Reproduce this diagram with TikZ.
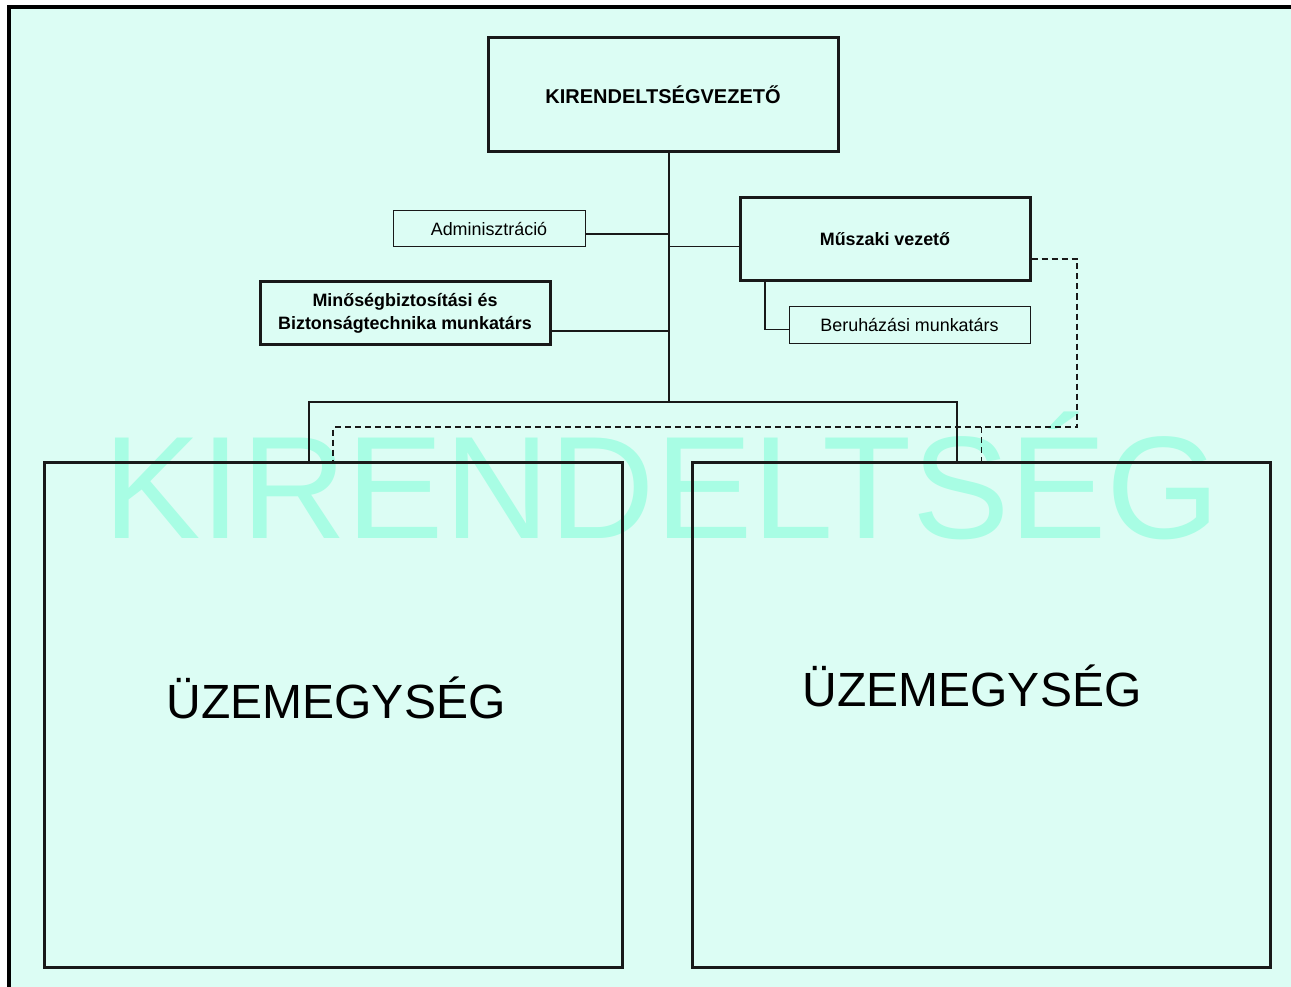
\documentclass[tikz,border=0pt]{standalone}
\usepackage{fontspec}
\setmainfont{Liberation Sans}
\definecolor{hatter}{RGB}{220,253,244}
\definecolor{vizjelszin}{RGB}{168,253,228}
\definecolor{vonal}{RGB}{25,25,25}
\newcommand{\kisbetu}{\fontsize{17.9}{23}\selectfont}
\begin{document}
\begin{tikzpicture}[x=1pt,y=-1pt,
        doboz/.style={draw=vonal,line width=3pt,inner sep=0pt,align=center},
        kisdoboz/.style={draw=vonal,line width=1pt,inner sep=0pt,font=\kisbetu},
        egyseg/.style={draw=vonal,line width=3pt,minimum width=578pt,minimum height=505pt},
        kapcs/.style={draw=vonal,line width=1.5pt},
        szagg/.style={kapcs,dash pattern=on 6pt off 4pt}]
    \useasboundingbox (0,0) rectangle (1291,987);
    \fill[white] (0,0) rectangle (1291,987);
    \fill[hatter] (7,5) rectangle (1291,987);
    \draw[line width=4.5pt] (9,1000) -- (9,7) -- (1300,7);

    % vizjel a hatterben
    \node[text=vizjelszin,font=\fontsize{146}{146}\selectfont,anchor=base,inner sep=0pt] (vizjel) at (662,538) {KIRENDELTSÉG};

    % dobozok
    \node[doboz,minimum width=350pt,minimum height=114pt,font=\bfseries\fontsize{20}{24}\selectfont] (vezeto) at (663,95) {KIRENDELTSÉGVEZETŐ};
    \node[kisdoboz,minimum width=192pt,minimum height=36pt] (admin) at (489,229) {Adminisztráció};
    \node[doboz,minimum width=290pt,minimum height=83pt,font=\bfseries\kisbetu] (muszaki) at (885,239.5) {Műszaki vezető};
    \node[doboz,minimum width=290pt,minimum height=62pt,font=\bfseries\kisbetu] (minoseg) at (405,313) {Minőségbiztosítási és\\Biztonságtechnika munkatárs};
    \node[kisdoboz,minimum width=241pt,minimum height=37pt] (beruhazas) at (909.5,324.5) {Beruházási munkatárs};

    \node[egyseg] (uzem1) at (333,714.5) {};
    \node[egyseg] (uzem2) at (981.5,714.5) {};
    \node[anchor=base,font=\fontsize{48}{52}\selectfont] (felirat1) at (336,718) {ÜZEMEGYSÉG};
    \node[anchor=base,font=\fontsize{48}{52}\selectfont] (felirat2) at (972,706) {ÜZEMEGYSÉG};

    % kapcsolatok
    \coordinate (elag) at (669,402);
    \coordinate (fordulo) at (1077,427);
    \draw[kapcs] (vezeto.south -| elag) -- (elag);
    \draw[kapcs] ([yshift=-5pt]admin.east) -- ([yshift=-5pt]admin.east -| elag);
    \draw[kapcs] ([yshift=-7pt]muszaki.west) -- ([yshift=-7pt]muszaki.west -| elag);
    \draw[kapcs] ([yshift=-18pt]minoseg.east) -- ([yshift=-18pt]minoseg.east -| elag);
    \draw[kapcs] ([xshift=-120pt]muszaki.south) |- ([yshift=-5pt]beruhazas.west);
    \draw[kapcs] ([xshift=-24pt]uzem1.north) |- (elag) -| ([xshift=-24.5pt]uzem2.north);

    \draw[szagg] ([yshift=-19.5pt]muszaki.east) -| (fordulo) -| (uzem1.north);
    \draw[szagg] (uzem2.north |- fordulo) -- (uzem2.north);
\end{tikzpicture}
\end{document}
